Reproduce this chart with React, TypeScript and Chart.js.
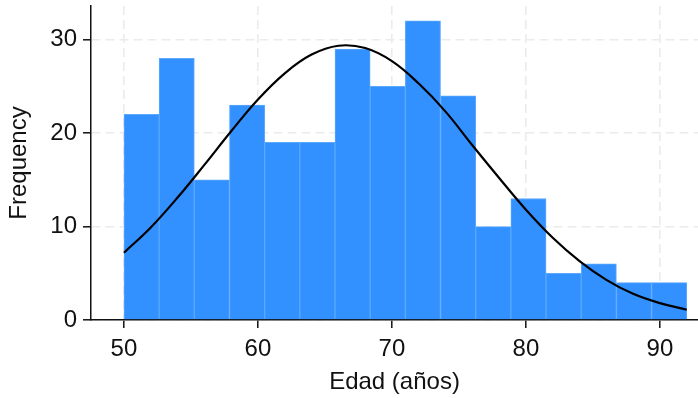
import React, { useEffect, useRef } from "react";
import { Chart, registerables } from "chart.js";

Chart.register(...registerables);

// Histogram bins (left edges) and counts
const binWidth = 2.625;
const binStarts = [50, 52.625, 55.25, 57.875, 60.5, 63.125, 65.75, 68.375, 71, 73.625, 76.25, 78.875, 81.5, 84.125, 86.75, 89.375];
const counts = [22, 28, 15, 23, 19, 19, 29, 25, 32, 24, 10, 13, 5, 6, 4, 4];

// Fitted normal curve
const curveX = [50, 52, 54, 56, 58, 60, 62, 64, 66, 68, 70, 72, 74, 76, 78, 80, 82, 84, 86, 88, 90, 92];
const curveY = [7.2, 9.9, 13.1, 16.6, 20.2, 23.6, 26.4, 28.4, 29.35, 29.1, 27.7, 25.3, 22.3, 18.7, 15.2, 11.8, 8.8, 6.3, 4.3, 2.8, 1.8, 1.1];

const xTicks = [50, 60, 70, 80, 90];
const yTicks = [0, 10, 20, 30];

const FONT = "'Liberation Sans', Arial, Helvetica, sans-serif";
const FS = 24;

export default function App() {
  const ref = useRef<HTMLCanvasElement | null>(null);
  useEffect(() => {
    if (!ref.current) return;
    const barData = binStarts.map((s, i) => ({ x: s + binWidth / 2, y: counts[i] }));
    const lineData = curveX.map((x, i) => ({ x, y: curveY[i] }));
    const chart = new Chart(ref.current, {
      type: "bar",
      data: {
        datasets: [
          {
            type: "line",
            data: lineData,
            borderColor: "#000000",
            borderWidth: 2.2,
            pointRadius: 0,
            tension: 0.4,
            fill: false,
            order: 0,
          } as any,
          {
            type: "bar",
            data: barData,
            backgroundColor: "#3391ff",
            borderColor: "#5aa8ff",
            borderWidth: 1,
            barPercentage: 1,
            categoryPercentage: 1,
            order: 1,
          } as any,
        ],
      },
      options: {
        responsive: false,
        animation: false,
        layout: { padding: { top: 6, right: 0, left: 0, bottom: 0 } },
        plugins: { legend: { display: false }, tooltip: { enabled: false } },
        scales: {
          x: {
            type: "linear",
            min: 47.54,
            max: 92.84,
            offset: false,
            afterFit: (s: any) => { s.height = 78; s.paddingLeft = 0; s.paddingRight = 0; },
            afterBuildTicks: (s: any) => { s.ticks = xTicks.map((v) => ({ value: v })); },
            ticks: {
              includeBounds: false,
              stepSize: 10,
              padding: 7,
              color: "#111",
              font: { family: FONT, size: FS },
              maxRotation: 0,
            },
            grid: {
              offset: false,
              color: "#ebebeb",
              lineWidth: 1.6,
              tickColor: "#111",
              tickWidth: 1.5,
              tickLength: 8,
              tickBorderDash: [],
            } as any,
            border: { display: true, color: "#111", width: 1.5, dash: [9, 5] } as any,
            title: {
              display: true,
              text: "Edad (años)",
              color: "#111",
              font: { family: FONT, size: FS },
              padding: { top: 0, bottom: 1 },
            },
          },
          y: {
            type: "linear",
            min: 0,
            max: 33.6,
            afterFit: (s: any) => { s.width = 91; s.paddingTop = 0; s.paddingBottom = 0; },
            afterBuildTicks: (s: any) => { s.ticks = yTicks.map((v) => ({ value: v })); },
            ticks: {
              includeBounds: false,
              stepSize: 10,
              padding: 6,
              color: "#111",
              font: { family: FONT, size: FS },
            },
            grid: {
              color: "#ebebeb",
              lineWidth: 1.6,
              tickColor: "#111",
              tickWidth: 1.5,
              tickLength: 8,
              tickBorderDash: [],
            } as any,
            border: { display: true, color: "#111", width: 1.5, dash: [9, 5] } as any,
            title: {
              display: true,
              text: "Frequency",
              color: "#111",
              font: { family: FONT, size: FS },
              padding: { top: 5, bottom: 0 },
            },
          },
        },
      },
    });
    return () => chart.destroy();
  }, []);
  return (
    <div style={{ position: "absolute", left: 0, top: 0, width: 698, height: 398, background: "#fff" }}>
      <canvas ref={ref} width={698} height={398} />
    </div>
  );
}
